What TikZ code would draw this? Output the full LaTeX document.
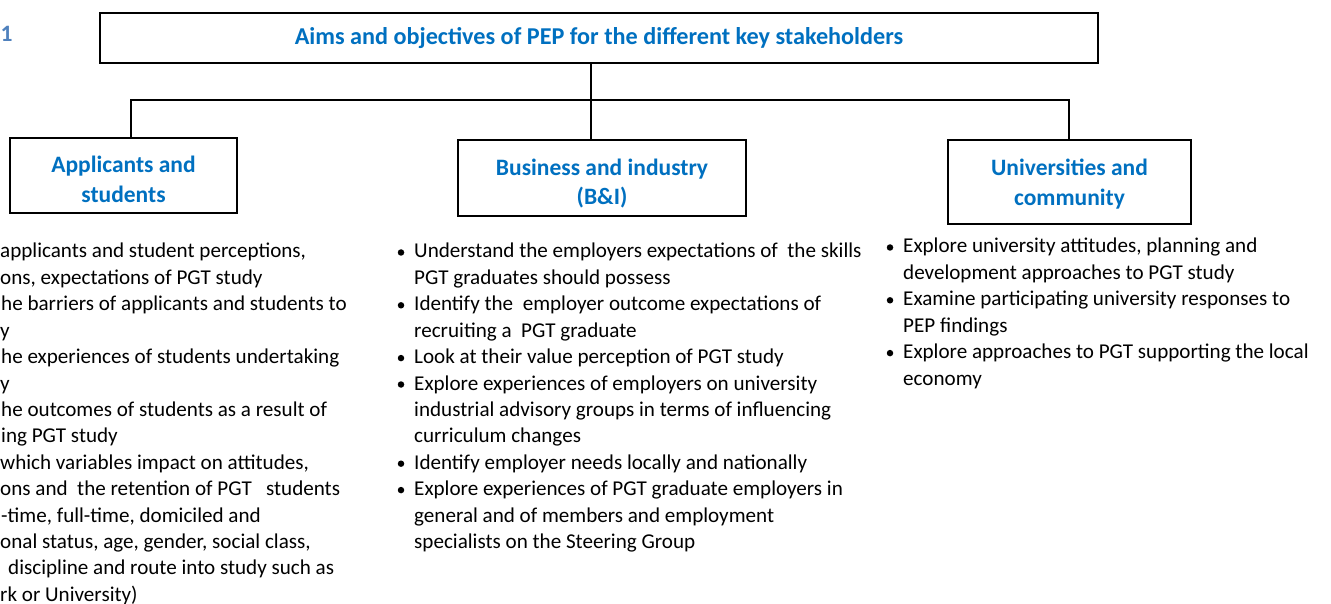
\documentclass[tikz,border=0pt]{standalone}
\usepackage{fontspec}
\setmainfont{Carlito}
\definecolor{headblue}{HTML}{0070C0}
\definecolor{figblue}{HTML}{4F81BD}
\begin{document}
\begin{tikzpicture}[x=1pt,y=-1pt,
  box/.style={draw=black, line width=1.8pt, fill=white, inner sep=0pt},
  head/.style={inner sep=0pt, text=headblue, font=\fontsize{23.5}{29.5}\selectfont\bfseries, align=center},
  conn/.style={draw=black, line width=1.3pt},
  body/.style={font=\fontsize{21.1}{26.4}\selectfont, anchor=base west, inner sep=0pt, text=black},
  dot/.style={circle, fill=black, minimum size=6.5pt, inner sep=0pt}]
\useasboundingbox (0,0) rectangle (1331,604);
% figure number fragment
\node[anchor=base west, inner sep=0pt, text=figblue, font=\fontsize{23.5}{29}\selectfont\bfseries] (fig) at (0.5,42) {1};
% boxes
\node[box, minimum width=998pt, minimum height=50pt] (top) at (599,38) {};
\node[head, font=\fontsize{24.2}{29}\selectfont\bfseries] (topt) at (599,38.5) {Aims and objectives of PEP for the different key stakeholders};
\node[box, minimum width=227pt, minimum height=75pt] (app) at (123.5,175.5) {};
\node[head] (appt) at (123.5,179.5) {Applicants and\\students};
\node[box, minimum width=288pt, minimum height=76pt] (bus) at (602,178) {};
\node[head] (bust) at (602,183.5) {Business and industry\\(B\&I)};
\node[box, minimum width=243pt, minimum height=84pt] (uni) at (1069.5,182) {};
\node[head] (unit) at (1069.5,184) {Universities and\\community};
% connectors
\coordinate (bl) at (131,100);
\coordinate (bm) at (591,100);
\coordinate (br) at (1069,100);
\draw[conn] (bl |- app.north) -- (bl) -- (br) -- (br |- uni.north);
\draw[conn] (bm |- top.south) -- (bm |- bus.north);
% column 1 (its left part lies outside the picture)
\foreach \k/\x/\t in {
  1/0/{applicants and student perceptions,},
  2/0/{ons, expectations of PGT study},
  3/1/{he barriers of applicants and students to},
  4/0/{y},
  5/1/{he experiences of students undertaking},
  6/0/{y},
  7/1/{he outcomes of students as a result of},
  8/1/{ing PGT study},
  9/0/{which variables impact on attitudes,},
  10/0/{ons and\ \ the retention of PGT\ \ \ students},
  11/1/{-time, full-time, domiciled and},
  12/0/{onal status, age, gender, social class,},
  13/8/{discipline and route into study such as},
  14/0/{rk or University)}}
  \node[body] (a\k) at ({\x},{258+26.4*(\k-1)}) {\t};
% column 2
\foreach \k/\t in {
  1/{Understand the employers expectations of\ \ the skills},
  2/{PGT graduates should possess},
  3/{Identify the\ \ employer outcome expectations of},
  4/{recruiting a\ \ PGT graduate},
  5/{Look at their value perception of PGT study},
  6/{Explore experiences of employers on university},
  7/{industrial advisory groups in terms of influencing},
  8/{curriculum changes},
  9/{Identify employer needs locally and nationally},
  10/{Explore experiences of PGT graduate employers in},
  11/{general and of members and employment},
  12/{specialists on the Steering Group}}
  \node[body] (b\k) at (414,{258+26.4*(\k-1)}) {\t};
\foreach \k in {1,3,5,6,9,10}
  \node[dot] (bd\k) at (401,{258+26.4*(\k-1)-5.5}) {};
% column 3
\foreach \k/\t in {
  1/{Explore university attitudes, planning and},
  2/{development approaches to PGT study},
  3/{Examine participating university responses to},
  4/{PEP findings},
  5/{Explore approaches to PGT supporting the local},
  6/{economy}}
  \node[body] (c\k) at (903,{253+26.4*(\k-1)}) {\t};
\foreach \k in {1,3,5}
  \node[dot] (cd\k) at (890,{253+26.4*(\k-1)-5.5}) {};
\end{tikzpicture}
\end{document}
